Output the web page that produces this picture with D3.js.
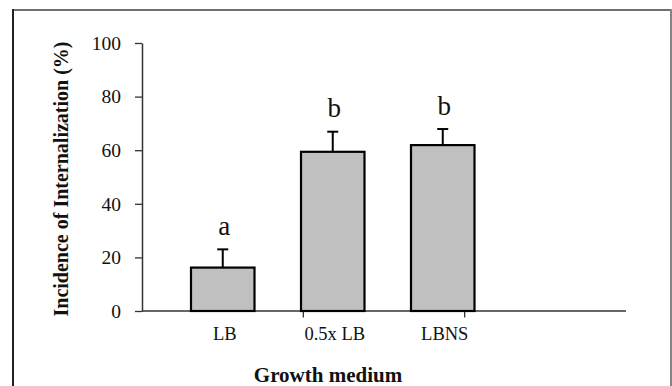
<!DOCTYPE html>
<html><head><meta charset="utf-8">
<script src="https://cdn.jsdelivr.net/npm/d3@7"></script>
<style>
html,body{margin:0;padding:0;background:#fff;}
svg{display:block;}
</style></head>
<body>
<svg id="chart" width="672" height="386"></svg>
<script>
const categories = ["LB", "0.5x LB", "LBNS"];
const means = [16.2, 59.4, 61.9];
const errors = [6.8, 7.5, 6.0];
const letters = ["a", "b", "b"];
const yTicks = [0, 20, 40, 60, 80, 100];

const svg = d3.select("#chart");
const font = "'Liberation Serif','Times New Roman',serif";

// frame
svg.append("line").attr("x1",13).attr("x2",671).attr("y1",10).attr("y2",10).attr("stroke","#707070").attr("stroke-width",2);
svg.append("line").attr("x1",13).attr("x2",13).attr("y1",9).attr("y2",386).attr("stroke","#222").attr("stroke-width",2);
svg.append("line").attr("x1",671).attr("x2",671).attr("y1",9).attr("y2",386).attr("stroke","#858585").attr("stroke-width",2);

const y = d3.scaleLinear().domain([0,100]).range([311,43]);
const xBar = d3.scaleBand().domain(categories).range([136,529.5]).paddingInner(0.4227).paddingOuter(0.5);
const xAxisScale = d3.scaleBand().domain(categories).range([142,626]);

// y axis
const yAxis = d3.axisLeft(y).tickValues(yTicks).tickSize(7).tickPadding(14).tickSizeOuter(0);
const gy = svg.append("g").attr("transform","translate(142,0)").call(yAxis);
gy.select(".domain").attr("stroke","#333").attr("stroke-width",1.5);
gy.selectAll(".tick line").attr("stroke","#333").attr("stroke-width",1.3);
gy.selectAll(".tick text").attr("font-family",font).attr("font-size","19.5px").attr("fill","#111");

// x axis line
svg.append("line").attr("x1",142).attr("x2",626).attr("y1",y(0)).attr("y2",y(0)).attr("stroke","#333").attr("stroke-width",1.6);
// x ticks at band boundaries
svg.selectAll("line.xtick").data(categories.slice(1)).enter().append("line")
  .attr("class","xtick")
  .attr("x1",d=>xAxisScale(d)).attr("x2",d=>xAxisScale(d))
  .attr("y1",y(0)).attr("y2",y(0)+6.5)
  .attr("stroke","#333").attr("stroke-width",1.3);

// bars
svg.selectAll("rect.bar").data(categories).enter().append("rect")
  .attr("class","bar")
  .attr("x",d=>xBar(d)).attr("width",xBar.bandwidth())
  .attr("y",(d,i)=>y(means[i])).attr("height",(d,i)=>y(0)-y(means[i]))
  .attr("fill","#c0c0c0").attr("stroke","#000").attr("stroke-width",2.2);

// error bars
const cx = d => xBar(d) + xBar.bandwidth()/2;
svg.selectAll("line.err").data(categories).enter().append("line")
  .attr("x1",cx).attr("x2",cx)
  .attr("y1",(d,i)=>y(means[i])).attr("y2",(d,i)=>y(means[i]+errors[i]))
  .attr("stroke","#000").attr("stroke-width",2);
svg.selectAll("line.cap").data(categories).enter().append("line")
  .attr("x1",d=>cx(d)-5.5).attr("x2",d=>cx(d)+5.5)
  .attr("y1",(d,i)=>y(means[i]+errors[i])).attr("y2",(d,i)=>y(means[i]+errors[i]))
  .attr("stroke","#000").attr("stroke-width",2);

// letters
svg.selectAll("text.sig").data(categories).enter().append("text")
  .attr("x",d=>cx(d)+1.5).attr("y",(d,i)=>y(means[i]+errors[i])-14.5)
  .attr("text-anchor","middle").attr("font-family",font).attr("font-size","27px").attr("fill","#111")
  .text((d,i)=>letters[i]);

// category labels
svg.selectAll("text.cat").data(categories).enter().append("text")
  .attr("x",d=>cx(d)+2).attr("y",340)
  .attr("text-anchor","middle").attr("font-family",font).attr("font-size","18.5px").attr("fill","#111")
  .text(d=>d);

// axis titles
svg.append("text").attr("x",328).attr("y",382).attr("text-anchor","middle")
  .attr("font-family",font).attr("font-weight","bold").attr("font-size","21px").attr("fill","#111")
  .text("Growth medium");
svg.append("text").attr("transform","translate(68,179) rotate(-90)").attr("text-anchor","middle")
  .attr("font-family",font).attr("font-weight","bold").attr("font-size","20px").attr("fill","#111")
  .text("Incidence of Internalization (%)");
</script>
</body></html>
